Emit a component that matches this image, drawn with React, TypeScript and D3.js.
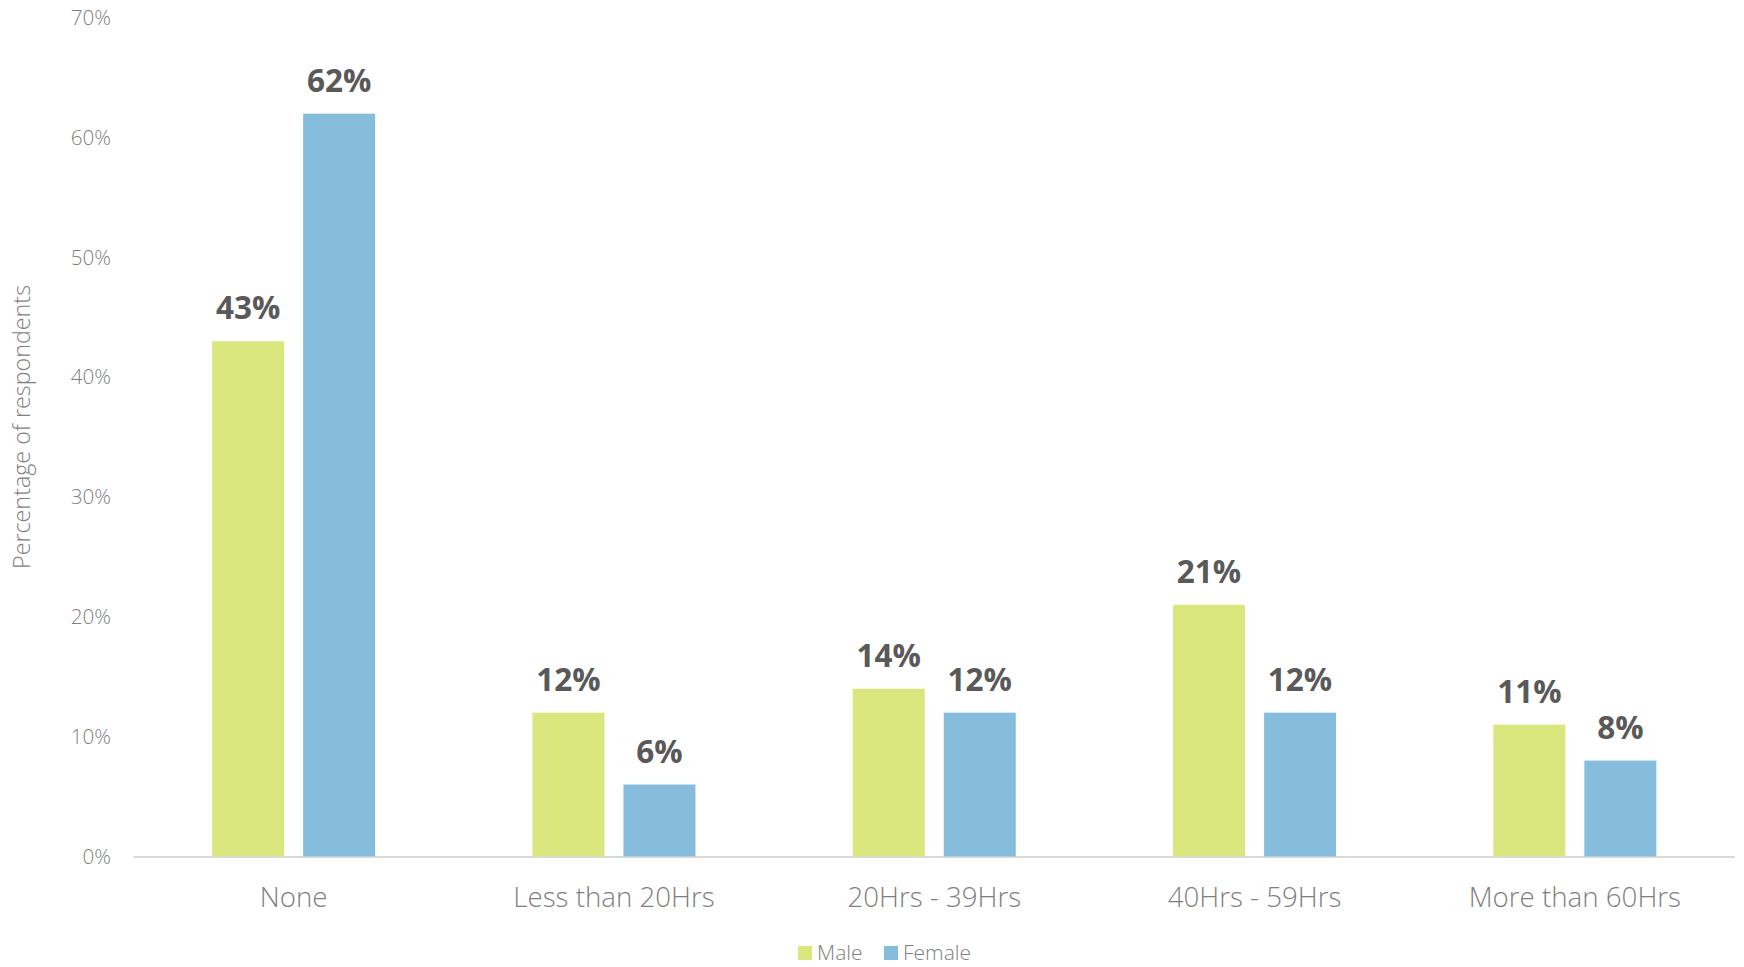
import React from "react";
import * as d3 from "d3";

const categories = ["None", "Less than 20Hrs", "20Hrs - 39Hrs", "40Hrs - 59Hrs", "More than 60Hrs"];
const series = ["Male", "Female"];
const maleValues = [43, 12, 14, 21, 11];
const femaleValues = [62, 6, 12, 12, 8];
const yTicks = [0, 10, 20, 30, 40, 50, 60, 70];
const colors = ["#DAE77E", "#87BDDC"];

const W = 1744;
const H = 967;
const FONT = "'Open Sans', 'Segoe UI', sans-serif";

export default function App() {
  const left = 133.5, right = 1735, top = 17.8, bottom = 856.4;
  const x = d3.scaleBand<string>().domain(categories).range([left, right]);
  const y = d3.scaleLinear().domain([0, 70]).range([bottom, top]);
  const barW = 72, gap = 19;
  const valuesBySeries = [maleValues, femaleValues];

  return (
    <svg width={W} height={H} style={{ position: "absolute", left: 0, top: 0, background: "#fff" }}>
      {yTicks.map((t) => (
        <text key={t} x={111} y={y(t)} dy="0.35em" textAnchor="end" fontFamily={FONT} fontWeight={300} fontSize={20.7} fill="#7f7f7f">
          {t}%
        </text>
      ))}
      <line x1={left} x2={right} y1={bottom + 0.5} y2={bottom + 0.5} stroke="#d9d9d9" strokeWidth={2} />
      {categories.map((c, i) => {
        const cx = x(c)! + x.bandwidth() / 2;
        return (
          <g key={c}>
            {valuesBySeries.map((vals, s) => {
              const bx = cx - gap / 2 - barW + s * (barW + gap);
              const v = vals[i];
              return (
                <g key={s}>
                  <rect x={bx} y={y(v)} width={barW} height={bottom - y(v)} fill={colors[s]} />
                  <text x={bx + barW / 2} y={y(v) - 22} textAnchor="middle" fontFamily={FONT} fontWeight={700} fontSize={31.5} fill="#595959">
                    {v}%
                  </text>
                </g>
              );
            })}
            <text x={cx} y={907} textAnchor="middle" fontFamily={FONT} fontWeight={300} fontSize={27.7} fill="#7f7f7f">
              {c}
            </text>
          </g>
        );
      })}
      <text transform={`translate(30, 427) rotate(-90)`} textAnchor="middle" fontFamily={FONT} fontWeight={300} fontSize={23.3} fill="#7f7f7f">
        Percentage of respondents
      </text>
      {series.map((s, i) => {
        const lx = i === 0 ? 798 : 884;
        return (
          <g key={s}>
            <rect x={lx} y={946} width={14} height={14} fill={colors[i]} />
            <text x={lx + 19} y={960} fontFamily={FONT} fontWeight={300} fontSize={21} fill="#7f7f7f">
              {s}
            </text>
          </g>
        );
      })}
    </svg>
  );
}
